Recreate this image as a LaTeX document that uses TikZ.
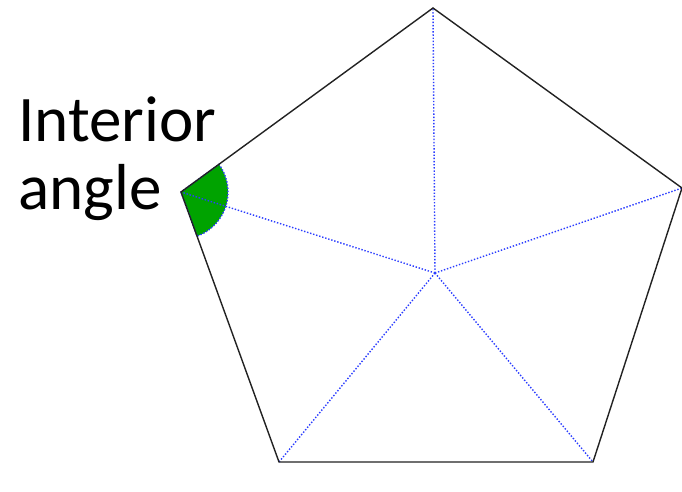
\documentclass[tikz,border=0pt]{standalone}
\usepackage{fontspec}
\setmainfont{Carlito}
\usetikzlibrary{calc}
\definecolor{ink}{HTML}{222222}
\definecolor{spoke}{HTML}{2A3CFF}
\definecolor{wedge}{HTML}{00A300}

\begin{document}
\begin{tikzpicture}[
  side/.style={draw=ink, line width=0.8pt},
  radial/.style={draw=spoke, densely dotted, line width=0.8pt},
  anglefill/.style={fill=wedge, draw=spoke, densely dotted, line width=0.8pt},
  bigtext/.style={font=\fontsize{37}{38}\selectfont, inner sep=0, anchor=base west}
]

\useasboundingbox (0,0) rectangle (13.64,9.84);

\def\rr{0.94}     % radius of the angle mark

% ---- corners of the pentagon and its centre
\coordinate (ctr) at (8.70,4.38);
\coordinate (v1)  at (8.66,9.68);
\coordinate (v2)  at (3.62,6.00);
\coordinate (v3)  at (5.58,0.60);
\coordinate (v4)  at (11.86,0.60);
\coordinate (v5)  at (13.64,6.08);

% ---- angle mark at the left corner
\filldraw[anglefill] (v2) -- ++(-70:\rr) arc[start angle=-70, end angle=36.1,
  radius=\rr] -- cycle;

% ---- spokes
\foreach \v in {v1,v2,v3,v4,v5}{
  \draw[radial] (ctr) -- (\v);
}

% ---- outline
\draw[side] (v1) -- (v2) -- (v3) -- (v4) -- (v5) -- cycle;

% ---- label
\node[bigtext] (lblA) at (0.36,7.00) {Interior};
\node[bigtext] (lblB) at (0.36,5.64) {angle};

\end{tikzpicture}
\end{document}
